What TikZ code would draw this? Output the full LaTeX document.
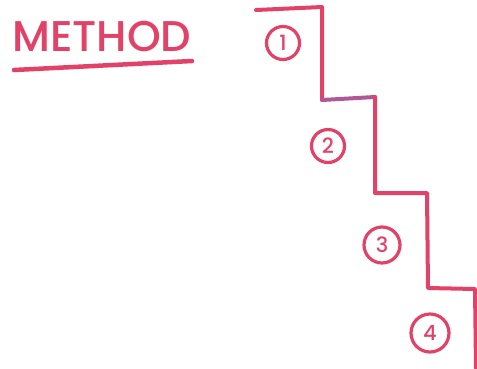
\documentclass[tikz,border=0pt]{standalone}
\usepackage{fontspec}
\setmainfont{Poppins}[BoldFont={Poppins Medium}]
\definecolor{penred}{RGB}{226,66,104}
\definecolor{penpurple}{RGB}{176,88,150}
\tikzset{
  stepnum/.style={circle,draw=penred,line width=3.2pt,minimum size=33pt,inner sep=0pt,text=penred,font=\fontsize{21}{21}\selectfont\bfseries},
}
\begin{document}
\begin{tikzpicture}[x=1pt,y=-1pt,line cap=round,line join=round]
  \useasboundingbox (0,0) rectangle (477,368);
  \node[anchor=base west,text=penred,inner sep=0pt,font=\fontsize{43}{43}\selectfont\bfseries] (title) at (12,51) {METHOD};
  \draw[penred,line width=4.5pt] (14,70) -- (192,61); %Soulignement
  %Escalier
  \draw[penred,line width=4pt] (256,10) -- (322,7) -- (322,100);
  \draw[penpurple,line width=4pt] (322,100) -- (375,97);
  \draw[penred,line width=4pt] (375,97) -- (375,193) -- (427,193) -- (428,288) -- (475,289) -- (476,368);
  \node[stepnum] (one) at (283,43) {1};
  \node[stepnum] (two) at (328,146) {2};
  \node[stepnum,minimum size=36pt] (three) at (382,245) {3};
  \node[stepnum,minimum size=38pt] (four) at (430,333) {4};
\end{tikzpicture}
\end{document}
